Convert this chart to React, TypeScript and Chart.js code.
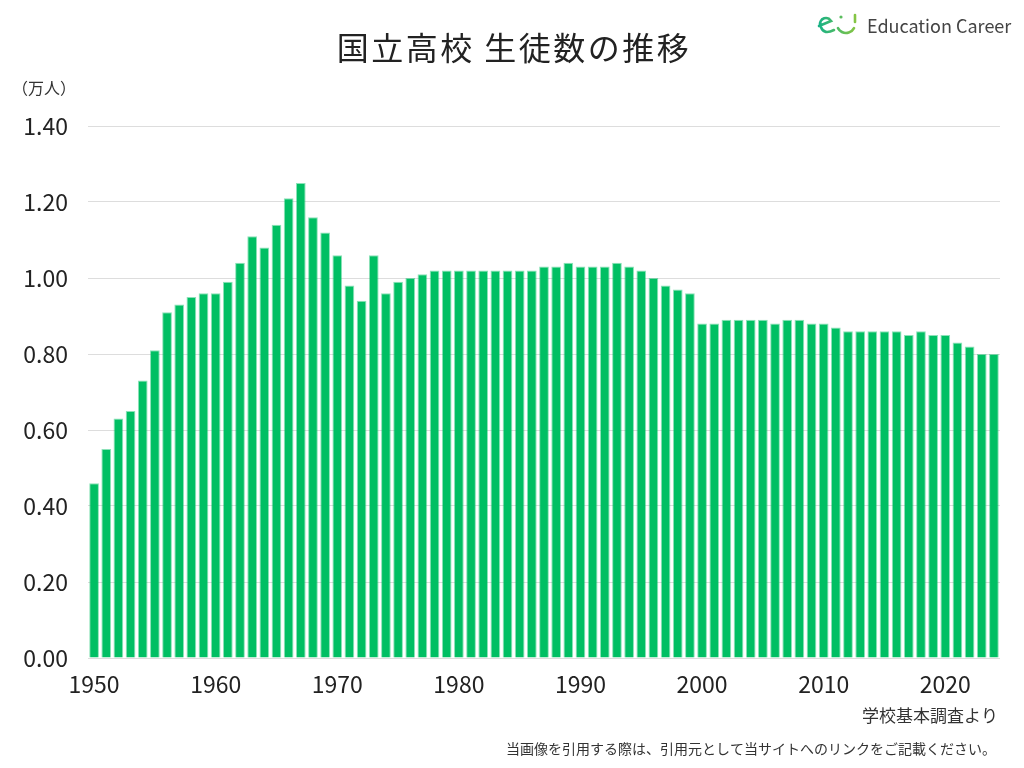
import { useEffect, useRef } from 'react'
import { Chart, registerables } from 'chart.js'

Chart.register(...registerables)

// 年度（カテゴリ）
const years = [
  '1950', '1951', '1952', '1953', '1954', '1955', '1956', '1957', '1958', '1959',
  '1960', '1961', '1962', '1963', '1964', '1965', '1966', '1967', '1968', '1969',
  '1970', '1971', '1972', '1973', '1974', '1975', '1976', '1977', '1978', '1979',
  '1980', '1981', '1982', '1983', '1984', '1985', '1986', '1987', '1988', '1989',
  '1990', '1991', '1992', '1993', '1994', '1995', '1996', '1997', '1998', '1999',
  '2000', '2001', '2002', '2003', '2004', '2005', '2006', '2007', '2008', '2009',
  '2010', '2011', '2012', '2013', '2014', '2015', '2016', '2017', '2018', '2019',
  '2020', '2021', '2022', '2023', '2024',
]

// 生徒数（万人）
const students = [
  0.46, 0.55, 0.63, 0.65, 0.73, 0.81, 0.91, 0.93, 0.95, 0.96,
  0.96, 0.99, 1.04, 1.11, 1.08, 1.14, 1.21, 1.25, 1.16, 1.12,
  1.06, 0.98, 0.94, 1.06, 0.96, 0.99, 1.0, 1.01, 1.02, 1.02,
  1.02, 1.02, 1.02, 1.02, 1.02, 1.02, 1.02, 1.03, 1.03, 1.04,
  1.03, 1.03, 1.03, 1.04, 1.03, 1.02, 1.0, 0.98, 0.97, 0.96,
  0.88, 0.88, 0.89, 0.89, 0.89, 0.89, 0.88, 0.89, 0.89, 0.88,
  0.88, 0.87, 0.86, 0.86, 0.86, 0.86, 0.86, 0.85, 0.86, 0.85,
  0.85, 0.83, 0.82, 0.8, 0.8,
]

const yTicks = [0, 0.2, 0.4, 0.6, 0.8, 1.0, 1.2, 1.4]

const title = '国立高校 生徒数の推移'
const unitLabel = '（万人）'
const sourceNote = '学校基本調査より'
const citeNote = '当画像を引用する際は、引用元として当サイトへのリンクをご記載ください。'
const brand = 'Education Career'

const FONT = '"Noto Sans CJK JP", "Noto Sans", sans-serif'

const textPlugin = {
  id: 'extraText',
  afterDraw(chart: Chart) {
    const { ctx } = chart
    ctx.save()

    // title
    ctx.fillStyle = '#222'
    ctx.font = `32px ${FONT}`
    ;(ctx as any).letterSpacing = '2.5px'
    ctx.textAlign = 'center'
    ctx.textBaseline = 'middle'
    ctx.fillText(title, 514, 48)
    ;(ctx as any).letterSpacing = '0px'

    // unit
    ctx.font = `16px ${FONT}`
    ctx.textAlign = 'left'
    ctx.fillStyle = '#333'
    ctx.fillText(unitLabel, 12, 88)

    // source
    ctx.textAlign = 'right'
    ctx.font = `17px ${FONT}`
    ctx.fillText(sourceNote, 998, 716)
    ctx.font = `14px ${FONT}`
    ctx.fillText(citeNote, 996, 749)

    // brand logo
    ctx.font = `18px ${FONT}`
    ctx.fillStyle = '#444'
    ctx.textAlign = 'left'
    ctx.fillText(brand, 867, 26)

    const grad = ctx.createLinearGradient(816, 0, 858, 0)
    grad.addColorStop(0, '#10b08a')
    grad.addColorStop(1, '#8dc63f')
    ctx.strokeStyle = grad
    ctx.fillStyle = grad
    ctx.lineWidth = 2.6
    ctx.lineCap = 'round'
    ctx.beginPath()
    ctx.moveTo(819, 26)
    ctx.lineTo(831, 21)
    ctx.arc(826, 24, 6, -0.35 * Math.PI, 0.8 * Math.PI, true)
    ctx.quadraticCurveTo(824, 35, 834, 30)
    ctx.stroke()
    ctx.beginPath()
    ctx.arc(846, 24, 9, 0.15 * Math.PI, 0.85 * Math.PI)
    ctx.stroke()
    ctx.beginPath()
    ctx.moveTo(855, 15)
    ctx.lineTo(855, 22)
    ctx.stroke()
    ctx.beginPath()
    ctx.arc(841, 17, 1.6, 0, Math.PI * 2)
    ctx.fill()

    ctx.restore()
  },
}

const StudentsChart = () => {
  const canvasRef = useRef<HTMLCanvasElement | null>(null)
  const chartRef = useRef<Chart | null>(null)

  useEffect(() => {
    const ctx = canvasRef.current?.getContext('2d')
    if (!ctx) return
    if (chartRef.current) chartRef.current.destroy()

    chartRef.current = new Chart(ctx, {
      type: 'bar',
      data: {
        labels: years,
        datasets: [
          {
            label: '生徒数',
            data: students,
            backgroundColor: '#00bf63',
            borderColor: 'rgba(0, 191, 99, 0.45)',
            borderWidth: 1,
            barPercentage: 0.8,
            categoryPercentage: 1,
          },
        ],
      },
      options: {
        animation: false,
        responsive: true,
        maintainAspectRatio: false,
        layout: { padding: { left: 8, right: 24, top: 126, bottom: 64 } },
        plugins: {
          legend: { display: false },
          tooltip: { enabled: false },
        },
        scales: {
          x: {
            grid: { display: false, drawTicks: false },
            border: { display: false },
            ticks: {
              autoSkip: false,
              maxRotation: 0,
              padding: 12,
              color: '#222',
              font: { family: FONT, size: 23 },
              callback: (_v, i) => (Number(years[i]) % 10 === 0 ? years[i] : ''),
            },
            afterFit: (s: any) => {
              s.height = 46
            },
          },
          y: {
            min: 0,
            max: 1.4,
            afterBuildTicks: (s: any) => {
              s.ticks = yTicks.map((v) => ({ value: v }))
            },
            grid: { color: '#dddddd', lineWidth: 1, drawTicks: false },
            border: { display: false },
            ticks: {
              padding: 20,
              color: '#222',
              font: { family: FONT, size: 23 },
              callback: (v) => Number(v).toFixed(2),
            },
            afterFit: (s: any) => {
              s.width = 80
            },
          },
        },
      },
      plugins: [textPlugin],
    })

    return () => {
      if (chartRef.current) {
        chartRef.current.destroy()
        chartRef.current = null
      }
    }
  }, [])

  return <canvas ref={canvasRef}></canvas>
}

export default function App() {
  return (
    <div
      style={{
        position: 'fixed',
        left: 0,
        top: 0,
        width: 1024,
        height: 768,
        background: '#fff',
      }}
    >
      <StudentsChart />
    </div>
  )
}
